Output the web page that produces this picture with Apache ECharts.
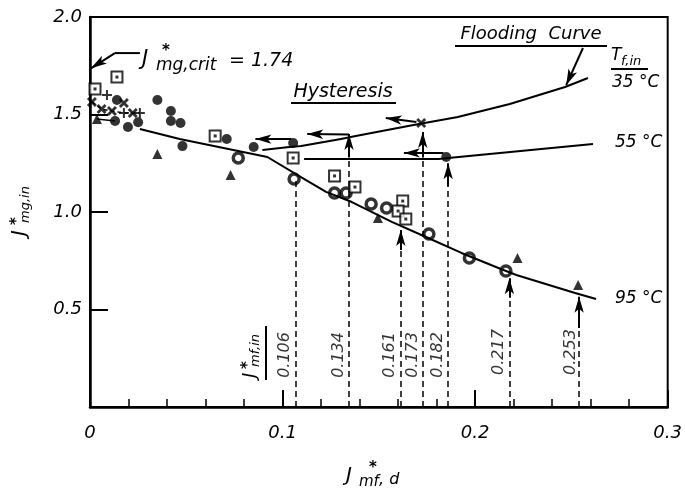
<!DOCTYPE html>
<html>
<head>
<meta charset="utf-8">
<script src="https://cdn.jsdelivr.net/npm/echarts@6/dist/echarts.min.js"></script>
</head>
<body style="margin:0;background:#fff">
<div id="chart" style="width:685px;height:494px;"></div>
<script>
// measured points, [J*mf,d, J*mg,in]
var filledDots = [[0.013,1.467],[0.014,1.574],[0.0197,1.436],[0.025,1.46],[0.035,1.574],[0.042,1.518],[0.042,1.467],
    [0.047,1.456],[0.048,1.338],[0.071,1.374],[0.085,1.333],[0.1055,1.354],[0.185,1.282]];
var ringDots = [[0.077,1.277],[0.106,1.169],[0.127,1.097],[0.133,1.097],[0.146,1.041],[0.154,1.02],[0.176,0.887],
    [0.197,0.764],[0.216,0.697]];
var squares = [[0.0026,1.631],[0.014,1.692],[0.065,1.39],[0.1055,1.277],[0.127,1.185],[0.1376,1.128],[0.1624,1.056],
    [0.160,1.005],[0.164,0.964]];
var triangles = [[0.0036,1.477],[0.035,1.297],[0.073,1.19],[0.1495,0.969],[0.222,0.764],[0.2535,0.626]];
var crosses = [[0.001,1.564],[0.006,1.528],[0.0114,1.518],[0.0176,1.559],[0.0222,1.508],[0.172,1.457]];
var plusses = [[0.0088,1.6],[0.0176,1.508],[0.0259,1.508]];

// curves
var curve35 = [[0.0895,1.318],[0.1035,1.333],[0.1097,1.338],[0.1303,1.374],[0.138,1.39],[0.168,1.446],[0.191,1.487],
    [0.218,1.554],[0.2467,1.641],[0.2586,1.687]];
var curve55 = [[0.1112,1.272],[0.181,1.272],[0.1914,1.282],[0.2612,1.349]];
var curve95 = [[0.0259,1.426],[0.0466,1.374],[0.0921,1.282],[0.1122,1.164],[0.1226,1.103],[0.136,1.051],[0.1567,0.949],
    [0.1733,0.877],[0.1929,0.790],[0.2121,0.713],[0.2214,0.677],[0.2519,0.585],[0.2628,0.554]];
var leftDashed = [[0.001,1.564],[0.006,1.528],[0.0114,1.518],[0.0176,1.508],[0.0222,1.508],[0.0259,1.508]];
var triDash = [[0.0036,1.477],[0.013,1.467]];

// J*mf,in drop lines
var jmfIn = ['0.106','0.134','0.161','0.173','0.182','0.217','0.253'];
var dropX = [0.1066,0.1345,0.1614,0.1728,0.186,0.2178,0.254];
var dropTop = [1.169,1.28,0.805,1.28,1.13,0.56,0.405];
var arrowTip = [null,1.40,0.908,1.41,1.25,0.66,0.565];
var labelX = [0.1012,0.1291,0.1555,0.1674,0.1808,0.2124,0.2496];
var labelY = [0.267,0.267,0.267,0.267,0.267,0.282,0.282];

// hysteresis arrows (from, to)
var hystArrows = [[[0.1045,1.374],[0.0859,1.374]],[[0.1345,1.397],[0.1128,1.40]],
    [[0.1695,1.462],[0.1536,1.482]],[[0.1836,1.303],[0.163,1.303]]];
var critLeader = [[0.0259,1.815],[0.0129,1.815]];
var critArrow = [[0.0129,1.815],[0.0005,1.737]];
var floodArrow = [[0.256,1.841],[0.2473,1.651]];

var FONT = '"DejaVu Sans"';

var dropLines = [], arrowLines = [], valueLabels = [];
for (var i = 0; i < dropX.length; i++) {
    dropLines.push([{coord: [dropX[i], 0]}, {coord: [dropX[i], dropTop[i]]}]);
    if (arrowTip[i] !== null) {
        arrowLines.push([{coord: [dropX[i], dropTop[i]]}, {coord: [dropX[i], arrowTip[i]]}]);
    }
    valueLabels.push({value: [labelX[i], labelY[i]], name: jmfIn[i]});
}
hystArrows.concat([critArrow, floodArrow]).forEach(function (a) {
    arrowLines.push([{coord: a[0]}, {coord: a[1]}]);
});

function txt(x, y, s, size, extra) {
    var style = {text: s, font: 'italic ' + size + 'px ' + FONT, fill: '#000',
        align: 'left', verticalAlign: 'middle', textAlign: 'left', textVerticalAlign: 'middle'};
    if (extra) for (var k in extra) style[k] = extra[k];
    return {type: 'text', x: x, y: y, style: style};
}
function star(x, y) {
    return txt(x, y, '*', 15, {font: 'bold 15px ' + FONT, align: 'center', textAlign: 'center'});
}
function uline(x1, y1, x2, y2) {
    return {type: 'line', shape: {x1: x1, y1: y1, x2: x2, y2: y2}, style: {stroke: '#000', lineWidth: 2}};
}

var chart = echarts.init(document.getElementById('chart'));
var lineBase = {type: 'line', showSymbol: false, symbol: 'none', silent: true,
    lineStyle: {color: '#000', width: 2}};

var option = {
    animation: false,
    grid: {left: 90, right: 16, top: 17, bottom: 87, show: true, borderColor: '#000', borderWidth: 2},
    xAxis: {
        type: 'value', min: 0, max: 0.3, interval: 0.1,
        axisLine: {lineStyle: {color: '#000', width: 2.5}},
        axisTick: {inside: true, length: 17, lineStyle: {color: '#000', width: 2}},
        minorTick: {show: true, splitNumber: 5, length: 8, lineStyle: {color: '#000', width: 1.5}},
        splitLine: {show: false},
        axisLabel: {margin: 17, fontSize: 18, fontStyle: 'italic', fontFamily: FONT, color: '#000',
            formatter: function (v) { return v === 0 ? '0' : v.toFixed(1); }}
    },
    yAxis: {
        type: 'value', min: 0, max: 2, interval: 0.5,
        axisLine: {lineStyle: {color: '#000', width: 2.5}},
        axisTick: {inside: true, length: 18, lineStyle: {color: '#000', width: 2}},
        splitLine: {show: false},
        axisLabel: {margin: 8, fontSize: 18, fontStyle: 'italic', fontFamily: FONT, color: '#000',
            formatter: function (v) { return v === 0 ? '' : v.toFixed(1); }}
    },
    series: [
        Object.assign({}, lineBase, {data: curve95}),
        Object.assign({}, lineBase, {data: curve55,
            markLine: {silent: true, symbol: ['none', 'arrow'], symbolSize: [7, 16], label: {show: false},
                lineStyle: {color: '#000', width: 2, type: 'solid'}, data: arrowLines}}),
        Object.assign({}, lineBase, {data: curve35}),
        Object.assign({}, lineBase, {data: critLeader}),
        Object.assign({}, lineBase, {data: leftDashed, lineStyle: {color: '#000', width: 1.5, type: [4, 3]}}),
        Object.assign({}, lineBase, {data: triDash, lineStyle: {color: '#000', width: 1.5}}),
        {type: 'scatter', data: filledDots, symbol: 'circle', symbolSize: 10, itemStyle: {color: '#000'},
            markLine: {silent: true, symbol: ['none', 'none'], label: {show: false},
                lineStyle: {color: '#000', width: 1.5, type: [6, 4]}, data: dropLines}},
        {type: 'scatter', data: ringDots, symbol: 'circle', symbolSize: 10,
            itemStyle: {color: '#fff', borderColor: '#000', borderWidth: 3.5}},
        {type: 'scatter', data: squares, symbol: 'rect', symbolSize: 11,
            itemStyle: {color: '#fff', borderColor: '#000', borderWidth: 2}},
        {type: 'scatter', data: squares, symbol: 'rect', symbolSize: 3, itemStyle: {color: '#000'}},
        {type: 'scatter', data: triangles, symbol: 'triangle', symbolSize: 10, itemStyle: {color: '#000'}},
        {type: 'scatter', data: crosses, symbolSize: 10, itemStyle: {color: '#000'},
            symbol: 'path://M2,0L5,3L8,0L10,2L7,5L10,8L8,10L5,7L2,10L0,8L3,5L0,2Z'},
        {type: 'scatter', data: plusses, symbolSize: 10, itemStyle: {color: '#000'},
            symbol: 'path://M4,0H6V4H10V6H6V10H4V6H0V4H4Z'},
        {type: 'scatter', data: valueLabels, symbolSize: 1, itemStyle: {color: 'rgba(0,0,0,0)'},
            label: {show: true, position: 'inside', rotate: 90, formatter: '{b}', color: '#000',
                fontSize: 16, fontStyle: 'italic', fontFamily: FONT}}
    ],
    graphic: [
        // y axis title
        {type: 'group', x: 20, y: 236, rotation: Math.PI / 2, children: [
            txt(0, 0, 'J', 20), txt(13, 6, 'mg,in', 13), star(15, -3)
        ]},
        // x axis title
        txt(346, 476, 'J', 20), txt(359, 482, 'mf', 15), txt(379, 480, ', d', 16), star(373, 468),
        // J*mf,in rotated label
        {type: 'group', x: 250, y: 378, rotation: Math.PI / 2, children: [
            txt(0, 0, 'J', 18), txt(11, 6, 'mf,in', 13), star(13, -2), uline(-2, 16, 52, 16)
        ]},
        // critical value
        txt(142, 60, 'J', 21), star(166, 51), txt(156, 66, 'mg,crit', 17), txt(229, 61, '= 1.74', 19),
        // Hysteresis
        txt(343, 92, 'Hysteresis', 19, {align: 'center', textAlign: 'center'}), uline(291, 103, 396, 103),
        // Flooding curve
        txt(531, 34, 'Flooding  Curve', 18, {align: 'center', textAlign: 'center'}), uline(455, 46, 607, 46),
        // temperatures
        txt(611, 56, 'T', 17), txt(621, 62, 'f,in', 13), uline(611, 69, 648, 69),
        txt(612, 83, '35 °C', 17), txt(615, 143, '55 °C', 17), txt(615, 299, '95 °C', 17)
    ]
};
chart.setOption(option);
</script>
</body>
</html>
